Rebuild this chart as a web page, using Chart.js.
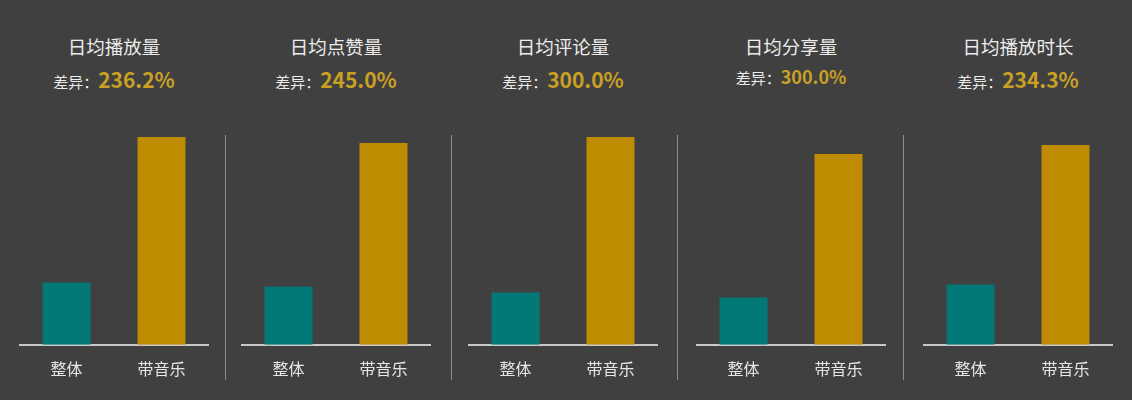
<!DOCTYPE html>
<html>
<head>
    <meta charset="utf-8">
    <title>带音乐 vs 整体</title>
    <script src="https://cdn.jsdelivr.net/npm/chart.js"></script>
    <style>
        body {
            margin: 0;
            background-color: #404040;
            font-family: 'Noto Sans CJK SC', 'Noto Sans', sans-serif;
            width: 1132px;
            height: 400px;
            overflow: hidden;
            position: relative;
        }
        .title {
            position: absolute;
            top: 34px;
            width: 190px;
            text-align: center;
            color: #ececec;
            font-size: 18.5px;
            line-height: 24px;
        }
        .diff {
            position: absolute;
            top: 64px;
            width: 190px;
            text-align: center;
            color: #ececec;
            font-size: 15px;
            line-height: 30px;
            white-space: nowrap;
        }
        .diff b {
            color: #c9a024;
            font-size: 21px;
            font-weight: bold;
        }
        .sep {
            position: absolute;
            top: 135px;
            width: 1px;
            height: 245px;
            background-color: #8c8c8c;
        }
        canvas {
            position: absolute;
            top: 0;
        }
    </style>
</head>
<body>
    <script>
        const metrics = ['日均播放量', '日均点赞量', '日均评论量', '日均分享量', '日均播放时长'];
        const diffs = ['236.2%', '245.0%', '300.0%', '300.0%', '234.3%'];
        const categories = ['整体', '带音乐'];
        const overall = [62, 58, 52, 47, 60];
        const withMusic = [207, 201, 207, 190, 199];

        // left edge of each small panel's baseline, and the dividers between them
        const panelLeft = [19, 241, 468, 696, 923];
        const dividers = [225, 451, 677, 903];

        const teal = '#037977';
        const gold = '#bf8b00';

        dividers.forEach(x => {
            const d = document.createElement('div');
            d.className = 'sep';
            d.style.left = x + 'px';
            document.body.appendChild(d);
        });

        metrics.forEach((name, i) => {
            const t = document.createElement('div');
            t.className = 'title';
            t.style.left = panelLeft[i] + 'px';
            t.textContent = name;
            document.body.appendChild(t);

            const s = document.createElement('div');
            s.className = 'diff';
            s.style.left = panelLeft[i] + 'px';
            s.innerHTML = '差异：<b>' + diffs[i] + '</b>';
            if (i === 3) {
                s.style.top = '61px';
                s.querySelector('b').style.fontSize = '18px';
            }
            document.body.appendChild(s);

            const c = document.createElement('canvas');
            c.width = 190;
            c.height = 400;
            c.style.left = panelLeft[i] + 'px';
            document.body.appendChild(c);

            new Chart(c.getContext('2d'), {
                type: 'bar',
                data: {
                    labels: categories,
                    datasets: [{
                        data: [overall[i], withMusic[i]],
                        backgroundColor: [teal, gold],
                        borderWidth: 0,
                        barPercentage: 0.505,
                        categoryPercentage: 1
                    }]
                },
                options: {
                    responsive: false,
                    animation: false,
                    layout: { padding: { top: 134, bottom: 6, left: 0, right: 0 } },
                    scales: {
                        x: {
                            z: 1,
                            grid: { display: true, drawOnChartArea: false, drawTicks: false },
                            border: { color: '#c8c8c8', width: 2 },
                            ticks: {
                                color: '#e6e6e6',
                                padding: 15,
                                font: { family: "'Noto Sans CJK SC'", size: 16 }
                            }
                        },
                        y: { display: false, min: 0, max: 210 }
                    },
                    plugins: {
                        legend: { display: false },
                        tooltip: { enabled: false }
                    }
                }
            });
        });
    </script>
</body>
</html>
